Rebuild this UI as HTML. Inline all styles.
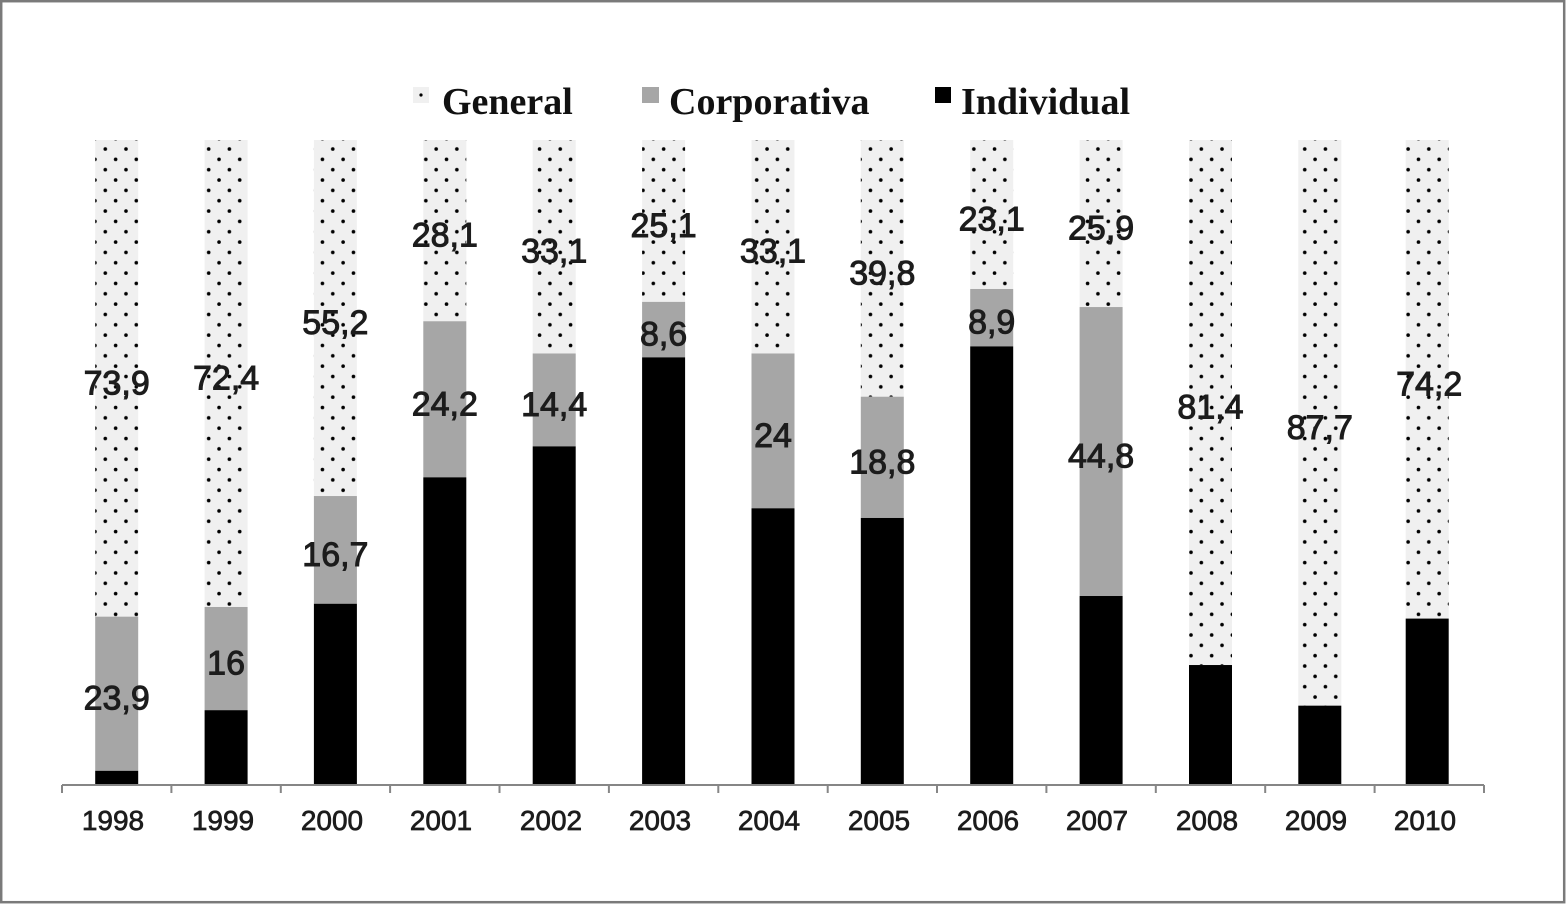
<!DOCTYPE html>
<html><head><meta charset="utf-8"><style>
html,body{margin:0;padding:0;background:#fff;}
svg{display:block;}
</style></head><body>
<svg width="1567" height="904" viewBox="0 0 1567 904" xmlns="http://www.w3.org/2000/svg">
<defs>
<pattern id="dots" patternUnits="userSpaceOnUse" x="100.3" y="144" width="20.68" height="20.68">
<rect x="0" y="0" width="20.68" height="20.68" fill="#f0f0f0"/>
<circle cx="5" cy="5" r="1.8" fill="#000"/>
<circle cx="15.34" cy="15.34" r="1.8" fill="#000"/>
</pattern>
</defs>
<rect x="0" y="0" width="1567" height="904" fill="#fff"/>
<rect x="1.2" y="1.2" width="1563" height="901" fill="none" stroke="#7a7a7a" stroke-width="2.5"/>

<g font-family="'Liberation Serif', serif" font-weight="bold" font-size="38" fill="#111">
<rect x="413" y="87" width="16" height="16" fill="#f0f0f0"/>
<circle cx="421" cy="95" r="1.6" fill="#000"/>
<text x="442" y="114">General</text>
<rect x="642" y="87" width="17" height="16" fill="#a6a6a6"/>
<text x="669" y="114">Corporativa</text>
<rect x="935" y="87" width="16" height="16" fill="#000"/>
<text x="961" y="114">Individual</text>
</g>

<g>
<rect x="95.2" y="140" width="43" height="476.65" fill="url(#dots)"/>
<rect x="95.2" y="616.65" width="43" height="154.16" fill="#a6a6a6"/>
<rect x="95.2" y="770.81" width="43" height="14.19" fill="#000"/>
<rect x="204.6" y="140" width="43" height="466.98" fill="url(#dots)"/>
<rect x="204.6" y="606.98" width="43" height="103.2" fill="#a6a6a6"/>
<rect x="204.6" y="710.18" width="43" height="74.82" fill="#000"/>
<rect x="313.9" y="140" width="43" height="356.04" fill="url(#dots)"/>
<rect x="313.9" y="496.04" width="43" height="107.71" fill="#a6a6a6"/>
<rect x="313.9" y="603.75" width="43" height="181.25" fill="#000"/>
<rect x="423.3" y="140" width="43" height="181.24" fill="url(#dots)"/>
<rect x="423.3" y="321.24" width="43" height="156.09" fill="#a6a6a6"/>
<rect x="423.3" y="477.33" width="43" height="307.67" fill="#000"/>
<rect x="532.7" y="140" width="43" height="213.49" fill="url(#dots)"/>
<rect x="532.7" y="353.49" width="43" height="92.88" fill="#a6a6a6"/>
<rect x="532.7" y="446.37" width="43" height="338.63" fill="#000"/>
<rect x="642.1" y="140" width="43" height="161.89" fill="url(#dots)"/>
<rect x="642.1" y="301.89" width="43" height="55.47" fill="#a6a6a6"/>
<rect x="642.1" y="357.36" width="43" height="427.64" fill="#000"/>
<rect x="751.5" y="140" width="43" height="213.49" fill="url(#dots)"/>
<rect x="751.5" y="353.49" width="43" height="154.8" fill="#a6a6a6"/>
<rect x="751.5" y="508.29" width="43" height="276.71" fill="#000"/>
<rect x="860.8" y="140" width="43" height="256.71" fill="url(#dots)"/>
<rect x="860.8" y="396.71" width="43" height="121.26" fill="#a6a6a6"/>
<rect x="860.8" y="517.97" width="43" height="267.03" fill="#000"/>
<rect x="970.2" y="140" width="43" height="148.99" fill="url(#dots)"/>
<rect x="970.2" y="288.99" width="43" height="57.41" fill="#a6a6a6"/>
<rect x="970.2" y="346.4" width="43" height="438.6" fill="#000"/>
<rect x="1079.6" y="140" width="43" height="167.05" fill="url(#dots)"/>
<rect x="1079.6" y="307.05" width="43" height="288.96" fill="#a6a6a6"/>
<rect x="1079.6" y="596.01" width="43" height="188.99" fill="#000"/>
<rect x="1189" y="140" width="43" height="525.03" fill="url(#dots)"/>
<rect x="1189" y="665.03" width="43" height="119.97" fill="#000"/>
<rect x="1298.3" y="140" width="43" height="565.66" fill="url(#dots)"/>
<rect x="1298.3" y="705.66" width="43" height="79.34" fill="#000"/>
<rect x="1405.7" y="140" width="43" height="478.59" fill="url(#dots)"/>
<rect x="1405.7" y="618.59" width="43" height="166.41" fill="#000"/>
</g>

<g stroke="#868686" stroke-width="2">
<line x1="62" y1="785" x2="1484" y2="785"/>
<line x1="62" y1="785" x2="62" y2="793"/>
<line x1="171.4" y1="785" x2="171.4" y2="793"/>
<line x1="280.8" y1="785" x2="280.8" y2="793"/>
<line x1="390.1" y1="785" x2="390.1" y2="793"/>
<line x1="499.5" y1="785" x2="499.5" y2="793"/>
<line x1="608.9" y1="785" x2="608.9" y2="793"/>
<line x1="718.3" y1="785" x2="718.3" y2="793"/>
<line x1="827.7" y1="785" x2="827.7" y2="793"/>
<line x1="937" y1="785" x2="937" y2="793"/>
<line x1="1046.4" y1="785" x2="1046.4" y2="793"/>
<line x1="1155.8" y1="785" x2="1155.8" y2="793"/>
<line x1="1265.2" y1="785" x2="1265.2" y2="793"/>
<line x1="1374.6" y1="785" x2="1374.6" y2="793"/>
<line x1="1484" y1="785" x2="1484" y2="793"/>
</g>

<g font-family="'Liberation Sans', 'DejaVu Sans', sans-serif" font-size="34" fill="#1c1c1c" stroke="#1c1c1c" stroke-width="1" text-anchor="middle">
<text x="116.7" y="394.3">73,9</text>
<text x="116.7" y="709.7">23,9</text>
<text x="226.1" y="389.5">72,4</text>
<text x="226.1" y="674.6">16</text>
<text x="335.4" y="334">55,2</text>
<text x="335.4" y="565.9">16,7</text>
<text x="444.8" y="246.6">28,1</text>
<text x="444.8" y="415.3">24,2</text>
<text x="554.2" y="262.7">33,1</text>
<text x="554.2" y="415.9">14,4</text>
<text x="663.6" y="236.9">25,1</text>
<text x="663.6" y="345.6">8,6</text>
<text x="773" y="262.7">33,1</text>
<text x="773" y="446.9">24</text>
<text x="882.3" y="284.4">39,8</text>
<text x="882.3" y="473.3">18,8</text>
<text x="991.7" y="230.5">23,1</text>
<text x="991.7" y="333.7">8,9</text>
<text x="1101.1" y="239.5">25,9</text>
<text x="1101.1" y="467.5">44,8</text>
<text x="1210.5" y="418.5">81,4</text>
<text x="1319.8" y="438.8">87,7</text>
<text x="1429.2" y="395.3">74,2</text>
</g>

<g font-family="'Liberation Sans', 'DejaVu Sans', sans-serif" font-size="28" fill="#1c1c1c" stroke="#1c1c1c" stroke-width="0.7" text-anchor="middle">
<text x="113" y="830">1998</text>
<text x="223" y="830">1999</text>
<text x="332" y="830">2000</text>
<text x="441" y="830">2001</text>
<text x="551" y="830">2002</text>
<text x="660" y="830">2003</text>
<text x="769" y="830">2004</text>
<text x="879" y="830">2005</text>
<text x="988" y="830">2006</text>
<text x="1097" y="830">2007</text>
<text x="1207" y="830">2008</text>
<text x="1316" y="830">2009</text>
<text x="1425" y="830">2010</text>
</g>
</svg>
</body></html>
